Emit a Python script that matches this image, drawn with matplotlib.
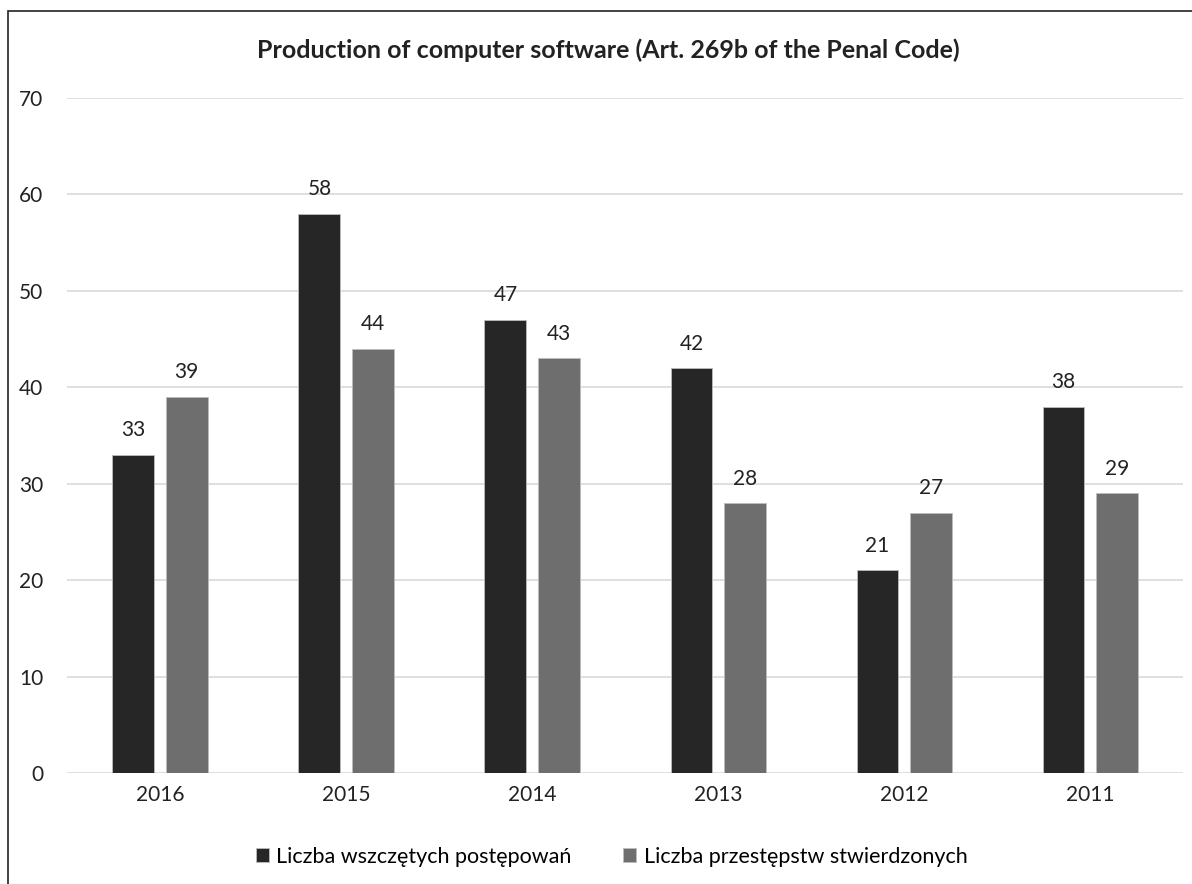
import matplotlib.pyplot as plt
import numpy as np
from matplotlib.patches import Rectangle

years = ['2016', '2015', '2014', '2013', '2012', '2011']
wszczete = [33, 58, 47, 42, 21, 38]
stwierdzone = [39, 44, 43, 28, 27, 29]
labels = ['Liczba wszczętych postępowań', 'Liczba przestępstw stwierdzonych']

plt.rcParams['font.family'] = ['Lato', 'DejaVu Sans']

fig = plt.figure(figsize=(11.92, 8.84), dpi=100)
ax = fig.add_axes([0.0562, 0.1256, 0.9363, 0.7635])

x = np.arange(len(years))
w = 0.225
b1 = ax.bar(x - 0.143, wszczete, w, color='#262626', edgecolor='#bdbdbd', linewidth=0.6, label=labels[0], zorder=3)
b2 = ax.bar(x + 0.143, stwierdzone, w, color='#6e6e6e', edgecolor='#bdbdbd', linewidth=0.6, label=labels[1], zorder=3)

for bars, vals in ((b1, wszczete), (b2, stwierdzone)):
    for r, v in zip(bars, vals):
        ax.text(r.get_x() + r.get_width() / 2, v + 1.5, str(v), ha='center', va='bottom',
                fontsize=15, color='#222222')

ax.set_xlim(-0.5, len(years) - 0.5)
ax.set_ylim(0, 70)
ax.set_yticks(range(0, 71, 10))
ax.set_xticks(x)
ax.set_xticklabels(years)
ax.grid(axis='y', color='#d9d9d9', linewidth=1.2, zorder=0)
ax.tick_params(length=0, labelsize=15, colors='#222222')
ax.tick_params(axis='y', pad=17)
ax.tick_params(axis='x', pad=9)
for s in ax.spines.values():
    s.set_visible(False)

fig.text(0.51, 0.943, 'Production of computer software (Art. 269b of the Penal Code)',
         ha='center', va='center', fontsize=18, fontweight='bold', color='#222222')

fig.legend(handles=[b1, b2], labels=labels, loc='center', bbox_to_anchor=(0.513, 0.031),
           ncol=2, frameon=False, fontsize=15.5, handlelength=0.6, handleheight=0.6,
           handletextpad=0.35, columnspacing=2.4)

# outer border of the chart area
fig.patches.append(Rectangle((8 / 1192, -0.05), 1.1, 1 - 11 / 884 + 0.05,
                             transform=fig.transFigure, fill=False,
                             edgecolor='#222222', linewidth=1.2))

fig.savefig('out.png', dpi=100)
